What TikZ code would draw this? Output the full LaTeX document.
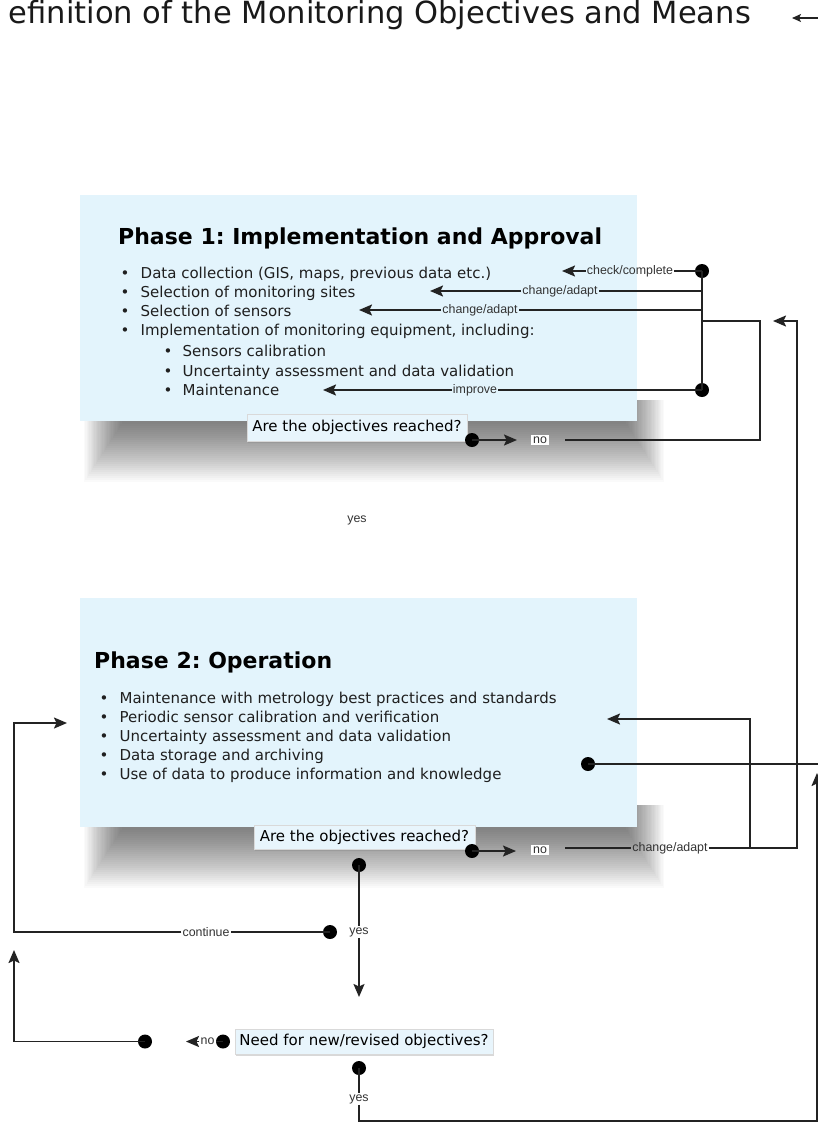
\documentclass[tikz,border=0pt]{standalone}
\usepackage{fontspec}
\setmainfont{DejaVu Sans}
\newfontfamily\labfont{Liberation Sans}
\usetikzlibrary{arrows.meta,shadows}
\definecolor{boxblue}{RGB}{227,244,252}
\definecolor{qblue}{RGB}{232,245,252}
\definecolor{linec}{RGB}{35,35,35}
\tikzset{
 ln/.style={draw=linec, line width=1.8pt},
 arr/.style={ln, -{Stealth[length=13pt,width=11pt,inset=2.5pt]}},
 dotn/.style={circle, fill=black, inner sep=0pt, minimum size=14pt},
 lbl/.style={font=\labfont\fontsize{12.4}{13}\selectfont, text=black!80, inner sep=1pt},
 nolbl/.style={lbl, fill=white, inner sep=2pt},
 phasebox/.style={fill=boxblue, inner sep=0pt},
 qbox/.style={fill=qblue, draw=black!15, line width=0.5pt, inner sep=0pt, font=\fontsize{15}{18}\selectfont,
   drop shadow={opacity=0.3, shadow xshift=0.5pt, shadow yshift=-2pt}},
 body/.style={anchor=base west, inner sep=0pt, font=\fontsize{15}{18}\selectfont, text=black!88},
 bul/.style={anchor=base, inner sep=0pt, font=\fontsize{15}{18}\selectfont, text=black!88},
 ptitle/.style={anchor=base west, inner sep=0pt, font=\bfseries\fontsize{22}{26}\selectfont},
}
\frenchspacing
\begin{document}
\begin{tikzpicture}[x=1pt,y=-1pt]
\path[use as bounding box, fill=white] (0,0) rectangle (818,1122);

% title
\node[anchor=base east, inner sep=0pt, font=\fontsize{30.5}{34}\selectfont, text=black!90] (title) at (751,23) {efinition of the Monitoring Objectives and Means};
\coordinate (tedge) at (818,18);
\coordinate (ttip) at (792,18);
\draw[ln, line width=1.5pt, -{Stealth[length=9pt,width=8pt,inset=2pt]}] (tedge) -- (ttip);

% shadows
\foreach \i in {0,...,29}{\fill[black,opacity=0.02] ({84+1.3*\i},400) rectangle ({664-1.3*\i},{482-2*\i});}
\foreach \i in {0,...,29}{\fill[black,opacity=0.02] ({84+1.3*\i},805) rectangle ({664-1.3*\i},{888-2*\i});}

% Phase 1
\node[phasebox, minimum width=557pt, minimum height=226pt] (p1) at (358.5,308) {};
\node[ptitle] (p1t) at (118,244) {Phase 1: Implementation and Approval};
\node[bul] (b11) at (125,278) {\textbullet};
\node[body] (t11) at (140.5,278) {Data collection (GIS, maps, previous data etc.)};
\node[bul] (b12) at (125,297) {\textbullet};
\node[body] (t12) at (140.5,297) {Selection of monitoring sites};
\node[bul] (b13) at (125,316) {\textbullet};
\node[body] (t13) at (140.5,316) {Selection of sensors};
\node[bul] (b14) at (125,335) {\textbullet};
\node[body] (t14) at (140.5,335) {Implementation of monitoring equipment, including:};
\node[bul] (b15) at (168,356) {\textbullet};
\node[body] (t15) at (182.5,356) {Sensors calibration};
\node[bul] (b16) at (168,376) {\textbullet};
\node[body] (t16) at (182.5,376) {Uncertainty assessment and data validation};
\node[bul] (b17) at (168,395) {\textbullet};
\node[body] (t17) at (182.5,395) {Maintenance};
\node[qbox, minimum width=220pt, minimum height=27pt] (q1) at (357,427.5) {Are the objectives reached?};

% Phase 2
\node[phasebox, minimum width=557pt, minimum height=229pt] (p2) at (358.5,712.5) {};
\node[ptitle] (p2t) at (94,668) {Phase 2: Operation};
\node[bul] (b21) at (104,703) {\textbullet};
\node[body] (t21) at (119.4,703) {Maintenance with metrology best practices and standards};
\node[bul] (b22) at (104,722) {\textbullet};
\node[body] (t22) at (119.4,722) {Periodic sensor calibration and verification};
\node[bul] (b23) at (104,741) {\textbullet};
\node[body] (t23) at (119.4,741) {Uncertainty assessment and data validation};
\node[bul] (b24) at (104,760) {\textbullet};
\node[body] (t24) at (119.4,760) {Data storage and archiving};
\node[bul] (b25) at (104,779) {\textbullet};
\node[body] (t25) at (119.4,779) {Use of data to produce information and knowledge};
\node[qbox, minimum width=221pt, minimum height=24pt] (q2) at (364.5,837) {Are the objectives reached?};

\node[qbox, minimum width=258pt, minimum height=25pt] (need) at (364,1041.5) {Need for new/revised objectives?};

% Phase 1 feedback connectors
\node[dotn] (d1) at (702,271) {};
\node[dotn] (d2) at (702,390) {};
\coordinate (jsites) at (702,291);
\coordinate (jsens) at (702,310);
\coordinate (jno1) at (702,321);
\node[lbl] (lcheck) at (630,271) {check/complete};
\node[lbl] (lsites) at (560,291) {change/adapt};
\node[lbl] (lsens) at (480,310) {change/adapt};
\node[lbl] (limp) at (475,390) {improve};
\coordinate (tcheck) at (562,271);
\coordinate (tsites) at (430,291);
\coordinate (tsens) at (359,310);
\coordinate (tmaint) at (323,390);
\draw[ln] (d1.center) -- (d2.center);
\draw[ln] (d1.center) -- (lcheck.east);
\draw[arr] (lcheck.west) -- (tcheck);
\draw[ln] (jsites) -- (lsites.east);
\draw[arr] (lsites.west) -- (tsites);
\draw[ln] (jsens) -- (lsens.east);
\draw[arr] (lsens.west) -- (tsens);
\draw[ln] (d2.center) -- (limp.east);
\draw[arr] (limp.west) -- (tmaint);

% Phase 1 no branch
\node[dotn] (q1d) at (472,440) {};
\coordinate (tq1no) at (517,440);
\draw[arr] (q1d.center) -- (tq1no);
\node[nolbl] (no1) at (540,440) {no};
\coordinate (no1s) at (565,440);
\coordinate (no1r) at (760,440);
\coordinate (no1u) at (760,321);
\draw[ln] (no1s) -- (no1r) -- (no1u) -- (jno1);

\node[lbl] (yes1) at (357,520) {yes};

% Phase 2 no branch
\node[dotn] (q2d) at (472,851) {};
\coordinate (tq2no) at (516,851);
\draw[arr] (q2d.center) -- (tq2no);
\node[nolbl] (no2) at (540,850) {no};
\coordinate (no2s) at (565,848);
\node[lbl] (lchg2) at (670,848) {change/adapt};
\coordinate (jp2) at (750,848);
\coordinate (rb) at (797,848);
\coordinate (rt) at (797,321);
\coordinate (tright1) at (773,321);
\coordinate (jp2u) at (750,719);
\coordinate (tp2in) at (607,719);
\draw[ln] (no2s) -- (lchg2.west);
\draw[arr] (lchg2.east) -- (rb) -- (rt) -- (tright1);
\draw[arr] (jp2) -- (jp2u) -- (tp2in);

% Phase 2 dot to right edge
\node[dotn] (p2d) at (588,764) {};
\coordinate (redge) at (818,764);
\draw[ln] (p2d.center) -- (redge);

% Phase 2 yes branch
\node[dotn] (q2y) at (359,865) {};
\node[lbl] (yes2) at (359,932) {yes};
\coordinate (tdown) at (359,997);
\draw[ln] (q2y.center) -- (yes2.north);
\draw[arr] (yes2.south) -- (tdown);

% continue
\node[dotn] (cd) at (330,932) {};
\node[lbl] (lcont) at (206,932) {continue};
\coordinate (cl) at (14,932);
\coordinate (clu) at (14,723);
\coordinate (tcont) at (67,723);
\draw[ln] (cd.center) -- (lcont.east);
\draw[arr] (lcont.west) -- (cl) -- (clu) -- (tcont);

% need: no
\node[dotn] (nd) at (223,1041.5) {};
\node[lbl] (lno3) at (207.5,1041.5) {no};
\coordinate (tneedno) at (186,1041.5);
\draw[ln] (nd.center) -- (lno3.east);
\draw[arr] (lno3.west) -- (tneedno);
\node[dotn] (ld) at (145,1041.5) {};
\coordinate (ll) at (14,1041.5);
\coordinate (tleft) at (14,950);
\draw[arr] (ld.center) -- (ll) -- (tleft);

% need: yes
\node[dotn] (ny) at (359,1068) {};
\node[lbl] (yes3) at (359,1099) {yes};
\coordinate (bl) at (359,1121);
\coordinate (br) at (817,1121);
\coordinate (trup) at (817,773);
\draw[ln] (ny.center) -- (yes3.north);
\draw[arr] (yes3.south) -- (bl) -- (br) -- (trup);
\end{tikzpicture}
\end{document}
